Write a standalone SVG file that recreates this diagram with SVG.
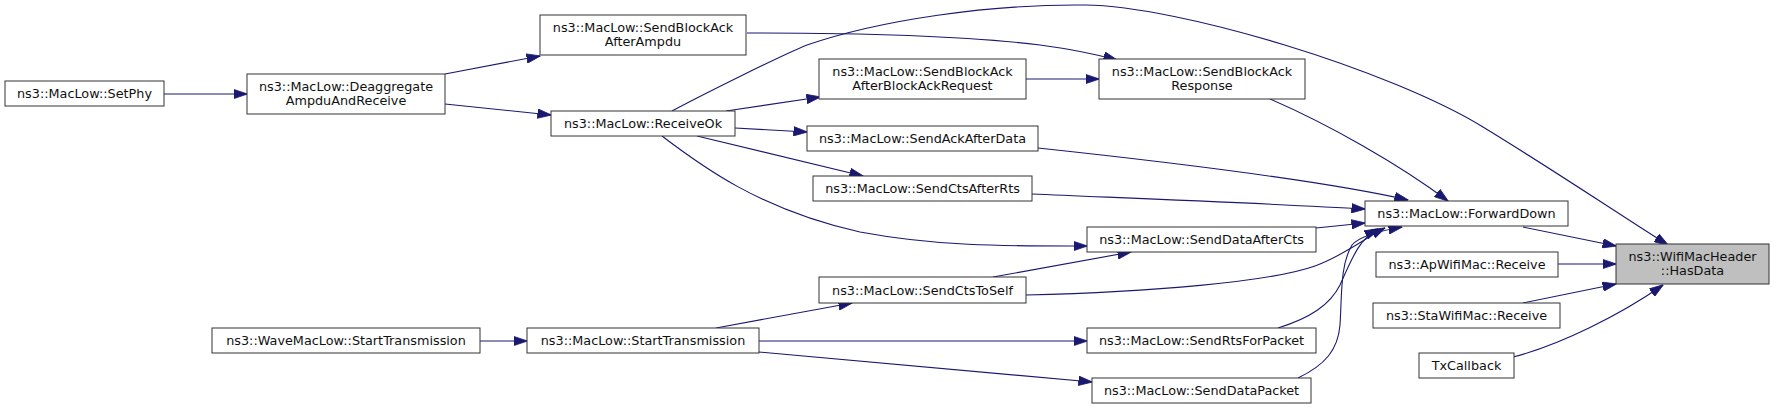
<svg xmlns="http://www.w3.org/2000/svg" width="1775" height="410" viewBox="0 0 1775 410">
<style>
.n rect{fill:#fff;stroke:#333;stroke-width:1}
.n.h rect{fill:#bfbfbf}
.n text{font-family:"DejaVu Sans","Liberation Sans",sans-serif;font-size:12.8px;fill:#111;text-anchor:middle}
#edges path{fill:none;stroke:#191970;stroke-width:1.1;marker-end:url(#ah)}
</style>
<defs>
<marker id="ah" markerUnits="userSpaceOnUse" markerWidth="14" markerHeight="10" viewBox="0 0 14 10" refX="13.5" refY="5" orient="auto">
<path d="M0,0.3 L14,5 L0,9.7 z" fill="#191970" stroke="#191970" stroke-width="0.8"/>
</marker>
</defs>
<rect width="1775" height="410" fill="#fff"/>
<g id="edges">
<path d="M164,94 L247,94"/>
<path d="M445,74 L540,56"/>
<path d="M445,104 L551,115"/>
<path d="M726,111 L820,97"/>
<path d="M735,128 L807,132"/>
<path d="M697,136 L863,176"/>
<path d="M662,136 C700,165 760,210 860,232 C940,247 1010,246 1087,246"/>
<path d="M672,111 C700,96 780,56 807,45 C880,20 990,4 1085,5 C1180,6 1390,70 1483,127 C1560,174 1620,215 1668,245"/>
<path d="M747,33 C830,33 960,35 1040,45 C1070,49 1095,54 1117,60"/>
<path d="M1026,79 L1099,79"/>
<path d="M1270,99 C1330,125 1400,165 1448,201"/>
<path d="M1038,148 C1150,160 1320,180 1408,200"/>
<path d="M1032,194 C1150,199 1280,204 1365,209"/>
<path d="M1316,228 L1365,223"/>
<path d="M993,277 L1131,252"/>
<path d="M1026,295 C1150,292 1270,282 1315,266 C1345,255 1365,238 1385,228"/>
<path d="M716,328 L852,303"/>
<path d="M759,341 L1087,341"/>
<path d="M759,352 L1092,382"/>
<path d="M480,341 L527,341"/>
<path d="M1278,328 C1310,318 1330,305 1340,285 C1352,258 1360,238 1378,229"/>
<path d="M1298,378 C1325,365 1338,350 1340,325 C1342,295 1340,265 1352,245 C1360,235 1385,230 1402,227"/>
<path d="M1523,227 L1616,246"/>
<path d="M1558,264 L1616,264"/>
<path d="M1523,303 L1616,284"/>
<path d="M1513,357 C1560,345 1620,315 1663,285"/>
</g>
<g id="n_setphy" class="n"><rect x="5" y="81" width="159" height="25"/><text x="84.5" y="98">ns3::MacLow::SetPhy</text></g>
<g id="n_deagg" class="n"><rect x="247" y="74" width="198" height="40"/><text x="346" y="90.5">ns3::MacLow::Deaggregate</text><text x="346" y="104.5">AmpduAndReceive</text></g>
<g id="n_sbaampdu" class="n"><rect x="540" y="15" width="206" height="40"/><text x="643" y="31.5">ns3::MacLow::SendBlockAck</text><text x="643" y="45.5">AfterAmpdu</text></g>
<g id="n_receiveok" class="n"><rect x="551" y="111" width="184" height="25"/><text x="643" y="128">ns3::MacLow::ReceiveOk</text></g>
<g id="n_sbabar" class="n"><rect x="819" y="59" width="207" height="40"/><text x="922.5" y="75.5">ns3::MacLow::SendBlockAck</text><text x="922.5" y="89.5">AfterBlockAckRequest</text></g>
<g id="n_ackafterdata" class="n"><rect x="807" y="126" width="231" height="25"/><text x="922.5" y="143">ns3::MacLow::SendAckAfterData</text></g>
<g id="n_ctsafterrts" class="n"><rect x="813" y="176" width="219" height="25"/><text x="922.5" y="193">ns3::MacLow::SendCtsAfterRts</text></g>
<g id="n_sbaresp" class="n"><rect x="1099" y="59" width="206" height="40"/><text x="1202" y="75.5">ns3::MacLow::SendBlockAck</text><text x="1202" y="89.5">Response</text></g>
<g id="n_forwarddown" class="n"><rect x="1365" y="201" width="203" height="25"/><text x="1466.5" y="218">ns3::MacLow::ForwardDown</text></g>
<g id="n_dataaftercts" class="n"><rect x="1087" y="227" width="229" height="25"/><text x="1201.5" y="244">ns3::MacLow::SendDataAfterCts</text></g>
<g id="n_ctstoself" class="n"><rect x="819" y="277" width="207" height="26"/><text x="922.5" y="294.5">ns3::MacLow::SendCtsToSelf</text></g>
<g id="n_starttx" class="n"><rect x="527" y="328" width="232" height="25"/><text x="643" y="345">ns3::MacLow::StartTransmission</text></g>
<g id="n_wavestarttx" class="n"><rect x="212" y="328" width="268" height="25"/><text x="346" y="345">ns3::WaveMacLow::StartTransmission</text></g>
<g id="n_rtsforpacket" class="n"><rect x="1087" y="328" width="229" height="25"/><text x="1201.5" y="345">ns3::MacLow::SendRtsForPacket</text></g>
<g id="n_datapacket" class="n"><rect x="1092" y="378" width="219" height="25"/><text x="1201.5" y="395">ns3::MacLow::SendDataPacket</text></g>
<g id="n_apreceive" class="n"><rect x="1376" y="252" width="182" height="25"/><text x="1467" y="269">ns3::ApWifiMac::Receive</text></g>
<g id="n_stareceive" class="n"><rect x="1373" y="303" width="187" height="25"/><text x="1466.5" y="320">ns3::StaWifiMac::Receive</text></g>
<g id="n_txcallback" class="n"><rect x="1419" y="353" width="95" height="25"/><text x="1466.5" y="370">TxCallback</text></g>
<g id="n_hasdata" class="n h"><rect x="1616" y="244" width="153" height="40"/><text x="1692.5" y="260.5">ns3::WifiMacHeader</text><text x="1692.5" y="274.5">::HasData</text></g>
</svg>
